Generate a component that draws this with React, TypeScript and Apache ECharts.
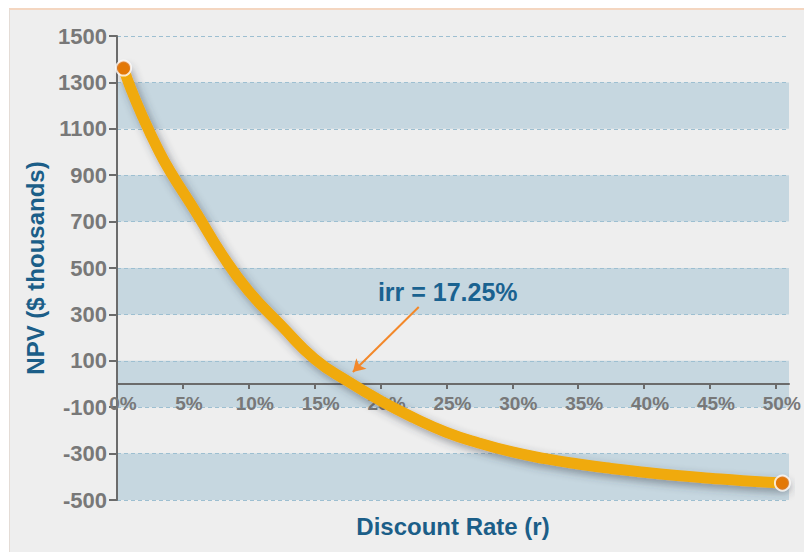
import React, { useEffect, useRef } from 'react';
import * as echarts from 'echarts';

// Discount rate (%) and NPV ($ thousands)
const rates = [0.5, 1, 2, 3, 4, 6, 8, 10, 12.5, 15, 17.5, 20, 22.5, 25, 27.5, 30, 32.5, 35, 37.5, 40, 42.5, 45, 47.5, 50.5];
const npv = [1362, 1280, 1145, 1025, 920, 740, 555, 400, 250, 108, 12, -72, -145, -208, -255, -293, -322, -345, -364, -380, -394, -406, -417, -427];

const xTickValues = [0, 5, 10, 15, 20, 25, 30, 35, 40, 45, 50];
const xMin = 0;
const xMax = 51;
const xStep = 5;
const yMin = -500;
const yMax = 1500;
const yStep = 200;

const irrText = 'irr = 17.25%';
const irrLabelAt = [25.1, 397];
const arrowFrom = [22.9, 332];
const arrowTo = [17.9, 52];

const FONT = 'Liberation Sans, Arial, sans-serif';

const GRID_TOP = 36;
const GRID_BOTTOM = 52;
const HEIGHT = 552;

export default function App() {
  const ref = useRef<HTMLDivElement>(null);
  useEffect(() => {
    const chart = echarts.init(ref.current as HTMLDivElement, null, { renderer: 'svg' });
    const curve = rates.map((r, i) => [r, npv[i]]);
    const ends = [curve[0], curve[curve.length - 1]];
    const axisColor = '#6b6b6b';
    const plotHeight = HEIGHT - GRID_TOP - GRID_BOTTOM;
    // move the x axis (line, ticks, labels, name) up to where y = 0
    const zeroOffset = -((0 - yMin) / (yMax - yMin)) * plotHeight;
    chart.setOption({
      animation: false,
      backgroundColor: 'transparent',
      textStyle: { fontFamily: FONT },
      grid: { left: 117, right: 15, top: GRID_TOP, bottom: GRID_BOTTOM, containLabel: false, outerBoundsMode: 'none' },
      xAxis: {
        type: 'value',
        min: xMin,
        max: xMax,
        interval: xStep,
        position: 'bottom',
        offset: zeroOffset,
        axisLine: { show: true, onZero: false, lineStyle: { color: axisColor, width: 2 } },
        axisTick: { show: true, length: 5, customValues: xTickValues, lineStyle: { color: axisColor, width: 2 } },
        axisLabel: {
          customValues: xTickValues,
          formatter: (v: number) => v + '%',
          color: '#787878',
          fontSize: 19,
          fontWeight: 'bold',
          fontFamily: FONT,
          margin: 10,
          padding: [0, 0, 0, 12],
        },
        splitLine: { show: false },
        name: 'Discount Rate (r)',
        nameLocation: 'middle',
        nameGap: 130,
        nameTextStyle: { color: '#1b5e88', fontSize: 24, fontWeight: 'bold', fontFamily: FONT },
      },
      yAxis: {
        type: 'value',
        min: yMin,
        max: yMax,
        interval: yStep,
        axisLine: { show: true, onZero: false, lineStyle: { color: axisColor, width: 2 } },
        axisTick: { show: true, length: 8, lineStyle: { color: axisColor, width: 2 } },
        axisLabel: {
          formatter: (v: number) => String(v),
          color: '#787878',
          fontSize: 22,
          fontWeight: 'bold',
          fontFamily: FONT,
          margin: 10,
        },
        splitLine: { show: true, lineStyle: { color: '#9dbfd1', type: [4, 3], width: 1 } },
        splitArea: { show: true, areaStyle: { color: ['#c6d7e0', 'rgba(0,0,0,0)'] } },
        name: 'NPV ($ thousands)',
        nameLocation: 'middle',
        nameGap: 69,
        nameRotate: 90,
        nameTextStyle: { color: '#1b5e88', fontSize: 24, fontWeight: 'bold', fontFamily: FONT },
      },
      series: [
        {
          type: 'line',
          data: curve,
          smooth: 0.5,
          showSymbol: false,
          z: 3,
          silent: true,
          emphasis: { disabled: true },
          lineStyle: {
            color: '#f0aa0f',
            width: 11,
            cap: 'round',
            join: 'round',
            shadowColor: 'rgba(50,60,70,0.45)',
            shadowBlur: 9,
            shadowOffsetX: 3,
            shadowOffsetY: 4,
          },
          markLine: {
            silent: true,
            symbol: ['none', 'arrow'],
            symbolSize: [11, 12],
            lineStyle: { color: '#f3882a', width: 2, type: 'solid', shadowBlur: 0, shadowColor: 'transparent' },
            label: { show: false },
            emphasis: { disabled: true },
            data: [[{ coord: arrowFrom }, { coord: arrowTo }]],
          },
          markPoint: {
            silent: true,
            symbol: 'circle',
            symbolSize: 1,
            itemStyle: { color: 'rgba(0,0,0,0)' },
            label: {
              show: true,
              position: 'inside',
              formatter: irrText,
              color: '#1a6290',
              fontSize: 25,
              fontWeight: 'bold',
              fontFamily: FONT,
            },
            data: [{ coord: irrLabelAt }],
          },
        },
        {
          type: 'scatter',
          data: ends,
          symbol: 'circle',
          symbolSize: 15,
          z: 5,
          silent: true,
          itemStyle: { color: '#e06b05', borderColor: '#ffffff', borderWidth: 2 },
        },
      ],
    });
    return () => chart.dispose();
  }, []);
  return (
    <div style={{ position: 'absolute', left: 0, top: 0, width: 804, height: 552, background: '#ffffff' }}>
      <div
        style={{
          position: 'absolute',
          left: 9,
          top: 8,
          right: 0,
          bottom: 0,
          background: '#eeeeee',
          borderTop: '2px solid #f4d6c0',
          borderLeft: '1px solid #e4dcd6',
        }}
      />
      <div ref={ref} style={{ position: 'absolute', left: 0, top: 0, width: 804, height: 552 }} />
    </div>
  );
}
